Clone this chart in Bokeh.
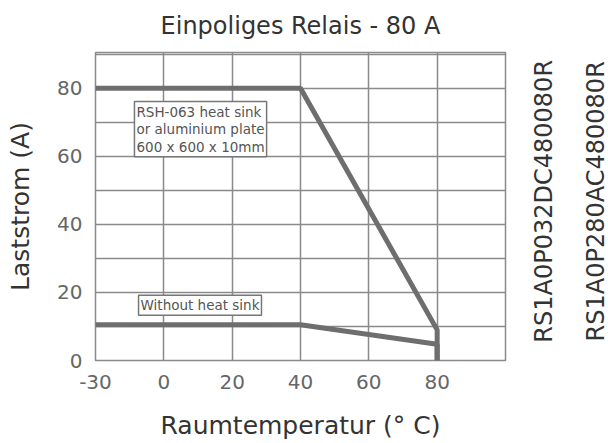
import math
from bokeh.plotting import figure
from bokeh.layouts import row
from bokeh.models import Label, FixedTicker, Range1d, LinearAxis
from bokeh.embed import file_html
from bokeh.resources import INLINE

# ---- data -------------------------------------------------------------
title_text = "Einpoliges Relais - 80 A"
x_label = "Raumtemperatur (° C)"
y_label = "Laststrom (A)"
x_tick_values = [-30, 0, 20, 40, 60, 80]
y_tick_values = [0, 20, 40, 60, 80]
y_minor_values = [10, 30, 50, 70, 90]
heatsink_temp = [-30, 40, 80, 80]
heatsink_current = [80, 80, 9, 0]
no_heatsink_temp = [-30, 40, 80, 80]
no_heatsink_current = [10.5, 10.5, 4.8, 0]
part_numbers = ["RS1A0P032DC480080R", "RS1A0P280AC480080R"]
note_heatsink = "RSH-063 heat sink\nor aluminium plate\n600 x 600 x 10mm"
note_no_heatsink = "Without heat sink"


def axis_pos(t):
    # the axis compresses -30..0 into the width of one 20-degree step
    return t * 20 / 30 if t < 0 else t


FONT = "DejaVu Sans"
GRID = "#8a8a8a"
LINE = "#6e6e6e"

p = figure(width=507, height=443, output_backend="svg", toolbar_location=None,
           title=None,
           x_range=Range1d(-20, 100), y_range=Range1d(0, 90.5),
           min_border_left=95, min_border_right=2, min_border_top=52,
           min_border_bottom=83)

xaxis = p.below[0]
yaxis = p.left[0]

xt = FixedTicker(ticks=[axis_pos(t) for t in x_tick_values])
xaxis.ticker = xt
p.xgrid.ticker = xt
xaxis.major_label_overrides = {axis_pos(t): str(t) for t in x_tick_values}
yaxis.ticker = FixedTicker(ticks=y_tick_values, minor_ticks=y_minor_values)

# chart title, set as the label of a tick-less axis above the frame
top = LinearAxis(ticker=FixedTicker(ticks=[]), axis_label=title_text,
                 axis_line_color=None, major_tick_line_color=None,
                 minor_tick_line_color=None,
                 major_label_standoff=0, axis_label_standoff=13,
                 axis_label_text_font=FONT, axis_label_text_font_size="24px",
                 axis_label_text_font_style="normal", axis_label_text_color="#333333")
p.add_layout(top, "above")

for ax in (xaxis, yaxis):
    ax.axis_line_color = None
    ax.major_tick_line_color = None
    ax.minor_tick_line_color = None
    ax.major_label_text_font = FONT
    ax.major_label_text_font_size = "20px"
    ax.major_label_text_color = "#666666"
    ax.axis_label_text_font = FONT
    ax.axis_label_text_font_size = "25px"
    ax.axis_label_text_font_style = "normal"
    ax.axis_label_text_color = "#333333"
xaxis.axis_label = x_label
yaxis.axis_label = y_label
xaxis.major_label_standoff = 8
yaxis.major_label_standoff = 7
xaxis.axis_label_standoff = 19
yaxis.axis_label_standoff = 19

p.xgrid.grid_line_color = GRID
p.ygrid.grid_line_color = GRID
p.ygrid.minor_grid_line_color = GRID
p.xgrid.grid_line_width = 1.5
p.ygrid.grid_line_width = 1.5
p.ygrid.minor_grid_line_width = 1.5
p.outline_line_color = GRID
p.outline_line_width = 1.5

p.line([axis_pos(t) for t in heatsink_temp], heatsink_current,
       line_width=5, line_color=LINE)
p.line([axis_pos(t) for t in no_heatsink_temp], no_heatsink_current,
       line_width=5, line_color=LINE)

for txt, x, y in ((note_heatsink, -8.6, 76.1), (note_no_heatsink, -7.4, 19.2)):
    p.add_layout(Label(x=x, y=y, text=txt, text_align="left", text_baseline="top",
                       text_font=FONT, text_font_size="13.5px", text_color="#555555",
                       text_line_height=1.1, padding=2,
                       border_line_color="#777777", border_line_width=1.5,
                       background_fill_color="white"))

# side panel holding the two vertical part numbers
side = figure(width=101, height=443, output_backend="svg", toolbar_location=None,
              title=None,
              x_range=Range1d(0, 101), y_range=Range1d(0, 443),
              x_axis_type=None, y_axis_type=None,
              min_border_left=0, min_border_right=0, min_border_top=0,
              min_border_bottom=0)
side.outline_line_color = None
side.grid.visible = False
for txt, x in zip(part_numbers, (36, 88)):
    side.add_layout(Label(x=x, y=229, text=txt, angle=math.pi / 2,
                          text_align="center", text_baseline="middle",
                          text_font=FONT, text_font_size="24px",
                          text_color="#333333"))

layout = row(p, side)
open("out.html", "w").write(file_html(layout, INLINE))
